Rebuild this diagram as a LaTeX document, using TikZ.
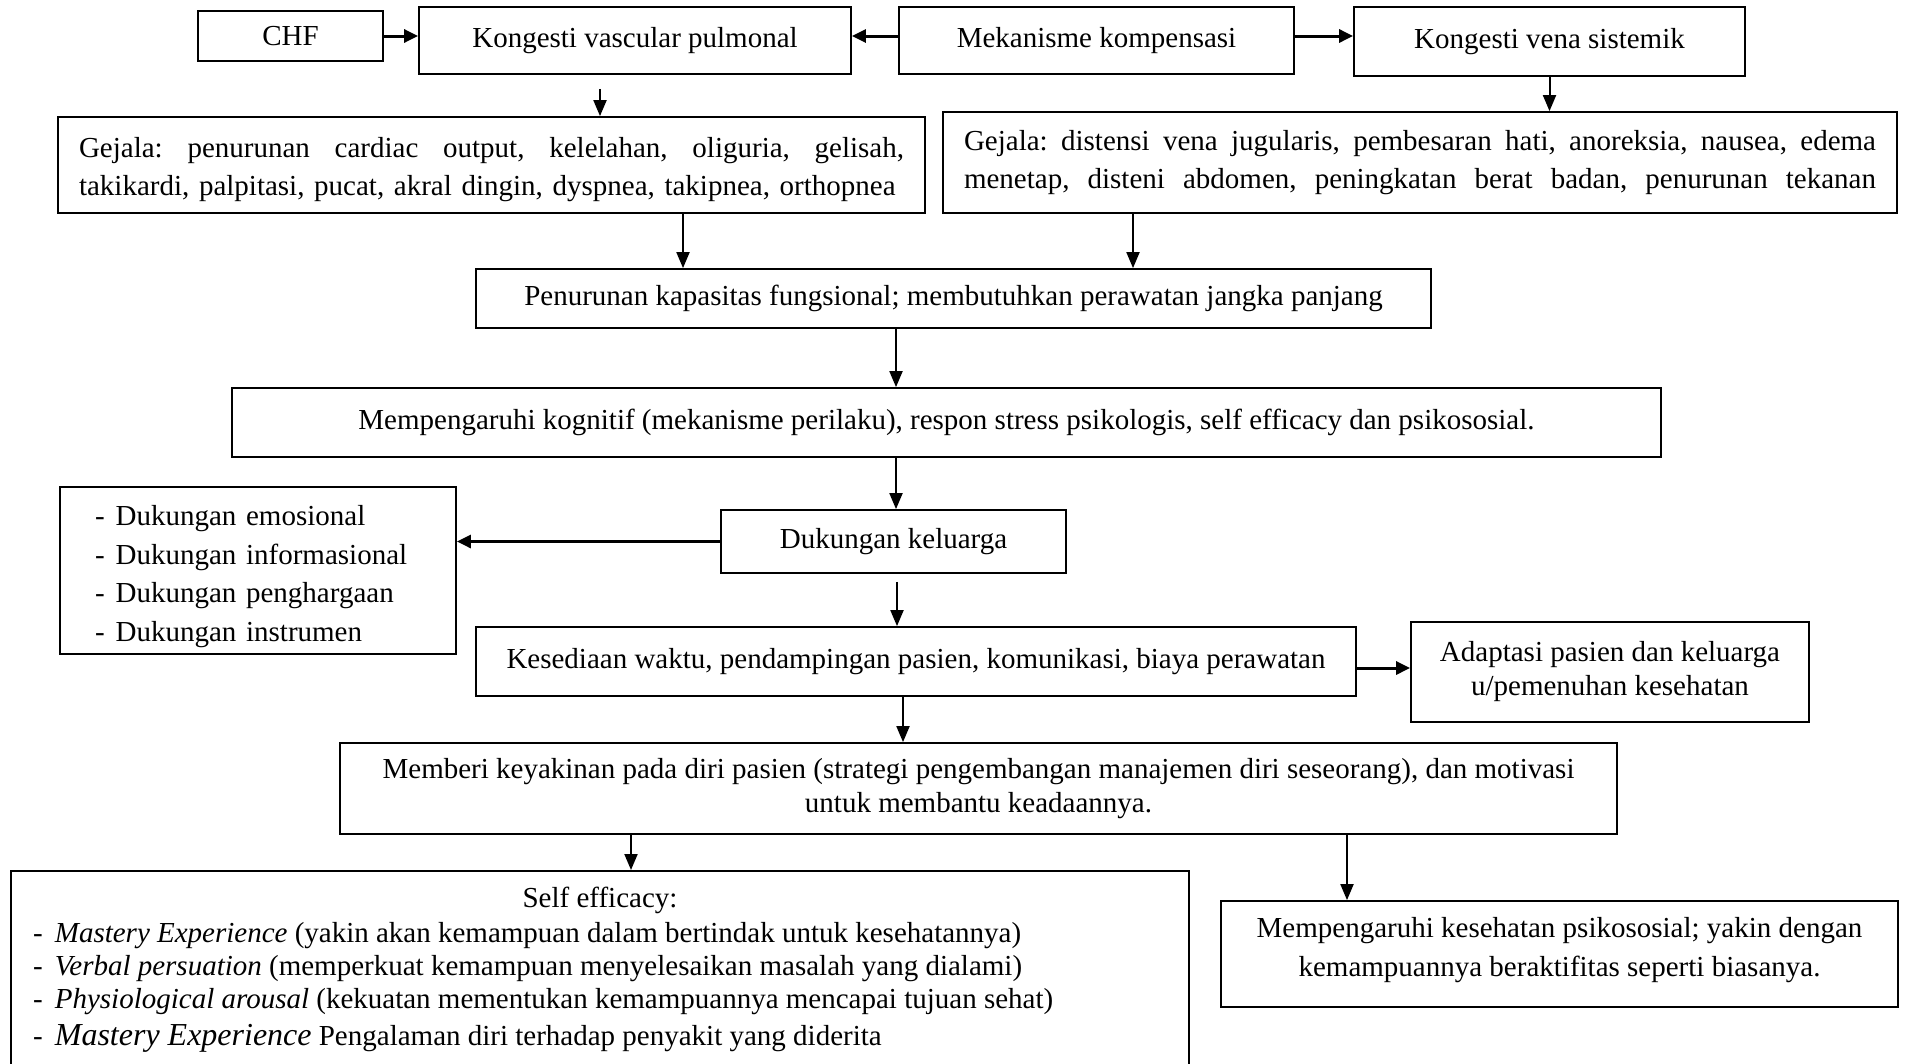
\documentclass[tikz,border=0pt]{standalone}
\usepackage{fontspec}
\setmainfont{Liberation Serif}
\usetikzlibrary{arrows.meta,calc}
\begin{document}
\begin{tikzpicture}[x=1pt,y=-1pt,
  box/.style={draw, line width=1.8pt, inner sep=0pt, font=\fontsize{29}{38}\selectfont\frenchspacing, align=center},
  arr/.style={line width=2pt, -{Triangle[length=16pt,width=13pt]}},
  harr/.style={line width=3pt, -{Triangle[length=14pt,width=13pt]}},
  txt/.style={inner sep=0pt, font=\fontsize{29}{33}\selectfont\frenchspacing, align=left}
]
\useasboundingbox (0,0) rectangle (1905,1063);
\clip (0,0) rectangle (1905,1063);

% top row
\node[box, minimum width=185, minimum height=50] (chf) at (290.5,36) {CHF};
\node[box, minimum width=432, minimum height=67] (kvp) at (635,40.5) {Kongesti vascular pulmonal};
\node[box, minimum width=395, minimum height=67] (mek) at (1096.5,40.5) {Mekanisme kompensasi};
\node[box, minimum width=391, minimum height=69] (kvs) at (1549.5,41.5) {Kongesti vena sistemik};

% symptoms
\node[box, text width=825, inner xsep=21, minimum height=96, align=left] (gl) at (491.5,165)
  {\rule{0pt}{30pt}\makebox[825pt][l]{Gejala:\hfill penurunan\hfill cardiac\hfill output,\hfill kelelahan,\hfill oliguria,\hfill gelisah,}\\takikardi, palpitasi, pucat, akral dingin, dyspnea, takipnea, orthopnea};
\node[box, text width=912, inner xsep=21, minimum height=101, align=left] (gr) at (1420,162.5)
  {\makebox[912pt][l]{Gejala:\hfill distensi\hfill vena\hfill jugularis,\hfill pembesaran\hfill hati,\hfill anoreksia,\hfill nausea,\hfill edema}\\\makebox[912pt][l]{menetap,\hfill disteni\hfill abdomen,\hfill peningkatan\hfill berat\hfill badan,\hfill penurunan\hfill tekanan}};

\node[box, minimum width=955, minimum height=59] (pen) at (953.5,298.5) {Penurunan kapasitas fungsional; membutuhkan perawatan jangka panjang};
\node[box, minimum width=1429, minimum height=69] (mk) at (946.5,422.5) {Mempengaruhi kognitif (mekanisme perilaku), respon stress psikologis, self efficacy dan psikososial.};
\node[box, minimum width=345, minimum height=63] (dk) at (893.5,541.5) {Dukungan keluarga};
\node[box, text width=326, inner xsep=35, minimum height=167, align=left, font=\fontsize{29}{38.5}\selectfont] (dlist) at (258,570.5)
  {\rule{0pt}{32pt}-\hspace{11pt}Dukungan emosional\\-\hspace{11pt}Dukungan informasional\\-\hspace{11pt}Dukungan penghargaan\\-\hspace{11pt}Dukungan instrumen};
\node[box, minimum width=880, minimum height=69] (kes) at (916,661.5) {Kesediaan waktu, pendampingan pasien, komunikasi, biaya perawatan};
\node[box, minimum width=398, minimum height=100, font=\fontsize{29}{34}\selectfont] (ada) at (1610,672) {Adaptasi pasien dan keluarga\\u/pemenuhan kesehatan};
\node[box, minimum width=1277, minimum height=91, font=\fontsize{29}{34}\selectfont] (mem) at (978.5,788.5)
  {Memberi keyakinan pada diri pasien (strategi pengembangan manajemen diri seseorang), dan motivasi\\untuk membantu keadaannya.};

% bottom
\node[draw, line width=1.8pt, inner sep=0pt, minimum width=1178, minimum height=220, anchor=north] (se) at (600,870) {};
\node[txt] (setitle) at (600,900) {Self efficacy:};
\node[txt, anchor=west] (selist) at (33,987)
  {-\hspace{12pt}\textit{Mastery Experience} (yakin akan kemampuan dalam bertindak untuk kesehatannya)\\
   -\hspace{12pt}\textit{Verbal persuation} (memperkuat kemampuan menyelesaikan masalah yang dialami)\\
   -\hspace{12pt}\textit{Physiological arousal} (kekuatan mementukan kemampuannya mencapai tujuan sehat)\\[4pt]
   -\hspace{12pt}{\fontsize{32}{32}\selectfont\itshape Mastery Experience} Pengalaman diri terhadap penyakit yang diderita};
\node[box, minimum width=677, minimum height=106, font=\fontsize{29}{39}\selectfont] (mks) at (1559.5,954)
  {Mempengaruhi kesehatan psikososial; yakin dengan\\kemampuannya beraktifitas seperti biasanya.\rule[-15pt]{0pt}{0pt}};

% connectors
\draw[harr] (chf.east) -- (chf.east -| kvp.west);
\draw[harr] ([yshift=4.5pt]mek.west) -- ([yshift=4.5pt]mek.west -| kvp.east);
\draw[harr] ([yshift=4.5pt]mek.east) -- ([yshift=4.5pt]mek.east -| kvs.west);
\coordinate (a1) at ($(kvp.south)+(-35,14)$);
\draw[arr] (a1) -- (a1 |- gl.north);
\draw[arr] (kvs.south) -- (kvs.south |- gr.north);
\coordinate (a2) at ($(gl.south)+(191.5,0)$);
\draw[arr] (a2) -- (a2 |- pen.north);
\coordinate (a3) at ($(gr.south)+(-287,0)$);
\draw[arr] (a3) -- (a3 |- pen.north);
\coordinate (a4) at ($(pen.south)+(-57.5,0)$);
\draw[arr] (a4) -- (a4 |- mk.north);
\coordinate (a5) at ($(mk.south)+(-50.5,0)$);
\draw[arr] (a5) -- (a5 |- dk.north);
\draw[harr] (dk.west) -- (dk.west -| dlist.east);
\coordinate (a6) at ($(dk.south)+(3.5,8)$);
\draw[arr] (a6) -- (a6 |- kes.north);
\coordinate (a7) at ($(kes.east)+(0,6.5)$);
\draw[harr] (a7) -- (a7 -| ada.west);
\coordinate (a8) at ($(kes.south)+(-13,0)$);
\draw[arr] (a8) -- (a8 |- mem.north);
\coordinate (a9) at ($(mem.south)+(-347.5,0)$);
\draw[arr] (a9) -- (a9 |- se.north);
\coordinate (a10) at ($(mem.south)+(368.5,0)$);
\draw[arr] (a10) -- (a10 |- mks.north);
\end{tikzpicture}
\end{document}
